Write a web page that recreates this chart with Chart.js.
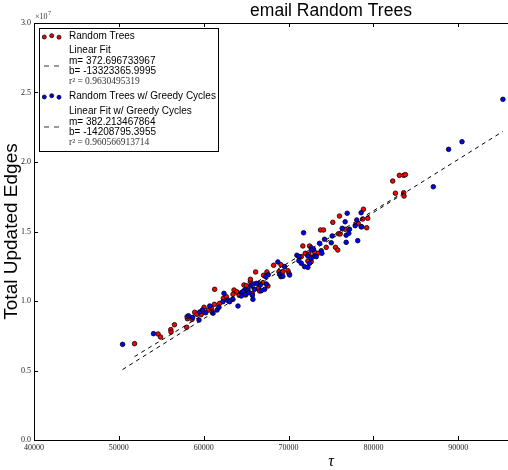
<!DOCTYPE html>
<html>
<head>
<meta charset="utf-8">
<script src="https://cdn.jsdelivr.net/npm/chart.js@4"></script>
<style>
  html, body { margin: 0; padding: 0; background: #fff; overflow: hidden; }
  #wrap { width: 660px; height: 470px; }
</style>
</head>
<body>
<div id="wrap"><canvas id="grafica" width="660" height="470"></canvas></div>
<script>
// tau values and total updated edges, plain random trees
const tauRandom = [
  51850, 54620, 54910, 56120, 56150, 56550, 58080, 58000, 58040, 58620,
  58940, 59210, 60040, 60550, 60980, 61260, 61880, 61290, 62320, 62670,
  63570, 63450, 64150, 64740, 65490, 65730, 65500, 66440, 64940, 65020,
  66120, 66470, 66980, 67570, 66590, 67060, 67450, 68240, 69100, 68860,
  69330, 69920, 70040, 71500, 71680, 71970, 72670, 73450, 72270, 72670,
  72470, 72390, 73060, 73770, 74120, 74440, 75530, 75800, 75210, 75880,
  76080, 76000, 76670, 78200, 78740, 79330, 78550, 78820, 79210, 82270,
  83060, 83570, 83770, 82590, 83570, 83610, 59700, 60900, 62900, 63900
];
const edgesRandom = [
  6.93e6, 7.63e6, 7.41e6, 7.94e6, 7.77e6, 8.29e6, 8.73e6, 8.11e6, 8.87e6, 8.68e6,
  9.19e6, 9.04e6, 9.55e6, 9.35e6, 9.23e6, 9.76e6, 9.83e6, 10.84e6, 10.19e6, 10.31e6,
  10.79e6, 10.48e6, 10.43e6, 11.15e6, 11.39e6, 10.55e6, 11.56e6, 10.91e6, 10.43e6, 11.10e6,
  12.09e6, 11.27e6, 11.32e6, 11.08e6, 10.72e6, 11.85e6, 12.09e6, 12.57e6, 12.61e6, 12.11e6,
  12.11e6, 12.18e6, 11.99e6, 13.19e6, 13.96e6, 13.43e6, 13.14e6, 13.43e6, 12.88e6, 12.83e6,
  13.96e6, 13.38e6, 13.52e6, 15.11e6, 15.11e6, 13.86e6, 13.86e6, 13.67e6, 15.66e6, 14.84e6,
  14.82e6, 16.11e6, 15.16e6, 15.59e6, 15.90e6, 15.95e6, 15.34e6, 16.60e6, 15.27e6, 18.63e6,
  19.04e6, 19.04e6, 19.09e6, 17.75e6, 17.79e6, 17.55e6, 9.02e6, 9.48e6, 10.02e6, 10.66e6
];

// same runs with greedy cycles
const tauGreedy = [
  50440, 54080, 58200, 59450, 59530, 59850, 60240, 60710, 61570, 61800,
  62390, 62270, 62860, 63060, 63450, 64040, 64440, 64820, 64940, 65210,
  65530, 66000, 66200, 64620, 65330, 65730, 65800, 64440, 65800, 66670,
  67380, 67180, 66790, 67610, 67300, 68740, 69530, 68940, 69100, 69330,
  70120, 70980, 71210, 72270, 73060, 71210, 71500, 71880, 72470, 72270,
  71770, 72670, 72940, 72700, 73260, 72670, 73650, 73850, 73920, 74240,
  75030, 75140, 76320, 77180, 76790, 77100, 76790, 78150, 76910, 78550,
  78040, 78630, 76670, 77850, 87060, 88860, 90440, 95260, 58700, 61100
];
const edgesGreedy = [
  6.88e6, 7.65e6, 8.94e6, 8.63e6, 9.21e6, 9.35e6, 9.16e6, 9.64e6, 9.35e6, 9.55e6,
  10.55e6, 9.95e6, 10.07e6, 9.95e6, 10.12e6, 9.64e6, 10.60e6, 10.79e6, 10.50e6, 10.79e6,
  11.08e6, 10.84e6, 11.27e6, 10.67e6, 10.60e6, 10.41e6, 10.12e6, 10.36e6, 11.22e6, 11.15e6,
  11.22e6, 10.84e6, 10.74e6, 11.89e6, 11.75e6, 12.81e6, 12.47e6, 11.92e6, 11.75e6, 11.78e6,
  11.87e6, 13.29e6, 13.19e6, 13.24e6, 13.24e6, 12.90e6, 12.71e6, 12.47e6, 12.71e6, 12.42e6,
  14.91e6, 13.83e6, 13.72e6, 13.67e6, 13.19e6, 13.07e6, 14.15e6, 13.62e6, 13.43e6, 14.44e6,
  14.19e6, 14.68e6, 15.23e6, 15.16e6, 14.73e6, 14.87e6, 14.22e6, 14.34e6, 16.31e6, 16.35e6,
  15.83e6, 15.34e6, 15.70e6, 15.42e6, 18.22e6, 20.91e6, 21.46e6, 24.51e6, 8.82e6, 9.12e6
];

// least squares fits
const fitRandom = { m: 372.696733967, b: -13323365.9995, r2: 0.9630495319 };
const fitGreedy = { m: 382.213467864, b: -14208795.3955, r2: 0.960566913714 };

const SANS = 'Liberation Sans, Arial, sans-serif';
const SERIF = 'Liberation Serif, DejaVu Serif, serif';

function puntos(xs, ys) {
    return xs.map((x, i) => ({ x: x, y: ys[i] }));
}

// fit line across the tau range of its own series
function recta(fit, xs) {
    const x0 = Math.min(...xs);
    const x1 = Math.max(...xs);
    return [{ x: x0, y: fit.m * x0 + fit.b }, { x: x1, y: fit.m * x1 + fit.b }];
}

const estiloPunto = {
    showLine: false,
    pointRadius: 2.3,
    pointBorderWidth: 0.8,
    borderColor: '#000',
    pointHoverRadius: 2.3
};

const estiloRecta = {
    showLine: true,
    pointRadius: 0,
    pointHoverRadius: 0,
    borderColor: '#000',
    borderWidth: 1,
    fill: false
};

function marcador(ctx, x, y, color) {
    ctx.beginPath();
    ctx.arc(x, y, 2, 0, Math.PI * 2);
    ctx.fillStyle = color;
    ctx.fill();
    ctx.lineWidth = 0.8;
    ctx.strokeStyle = '#000';
    ctx.stroke();
}

// box, inward ticks, title, offset label and legend
const marco = {
    id: 'marco',
    afterDraw(chart) {
        const ctx = chart.ctx;
        const a = chart.chartArea;
        const sx = chart.scales.x;
        const sy = chart.scales.y;
        ctx.save();

        ctx.strokeStyle = '#000';
        ctx.lineWidth = 1;
        ctx.strokeRect(a.left + 0.5, a.top + 0.5, a.right - a.left - 1, a.bottom - a.top);

        ctx.beginPath();
        sx.ticks.forEach(t => {
            const px = Math.round(sx.getPixelForValue(t.value)) + 0.5;
            ctx.moveTo(px, a.bottom); ctx.lineTo(px, a.bottom - 4);
            ctx.moveTo(px, a.top); ctx.lineTo(px, a.top + 4);
        });
        sy.ticks.forEach(t => {
            const py = Math.round(sy.getPixelForValue(t.value)) + 0.5;
            ctx.moveTo(a.left, py); ctx.lineTo(a.left + 4, py);
            ctx.moveTo(a.right, py); ctx.lineTo(a.right - 4, py);
        });
        ctx.stroke();

        // title over the axes
        ctx.fillStyle = '#000';
        ctx.font = '17.5px ' + SANS;
        ctx.textAlign = 'center';
        ctx.textBaseline = 'middle';
        ctx.fillText('email Random Trees', (a.left + a.right) / 2, 11);

        // ×10^7 offset
        ctx.fillStyle = '#333';
        ctx.textAlign = 'left';
        ctx.textBaseline = 'alphabetic';
        ctx.font = '8px ' + SERIF;
        ctx.fillText('×10', a.left + 1, a.top - 4);
        ctx.font = '6px ' + SERIF;
        ctx.fillText('7', a.left + 14, a.top - 8);

        // legend
        const lx = 39, ly = 28;
        ctx.fillStyle = '#fff';
        ctx.fillRect(lx, ly, 179, 123);
        ctx.strokeStyle = '#000';
        ctx.lineWidth = 1;
        ctx.strokeRect(lx + 0.5, ly + 0.5, 179, 123);

        [[44.3, 0.5], [51.7, -0.8], [59, 0.7]].forEach(([x, dy]) => {
            marcador(ctx, x, 36.5 + dy, 'red');
            marcador(ctx, x, 96.5 + dy, 'blue');
        });

        ctx.beginPath();
        ctx.setLineDash([5, 5]);
        ctx.moveTo(44, 66); ctx.lineTo(62, 66);
        ctx.moveTo(44, 127); ctx.lineTo(62, 127);
        ctx.stroke();
        ctx.setLineDash([]);

        ctx.textBaseline = 'middle';
        ctx.fillStyle = '#000';
        ctx.font = '10px ' + SANS;
        ctx.fillText('Random Trees', 69, 36.7);
        ctx.fillText('Linear Fit', 69, 50.7);
        ctx.fillText('m= ' + fitRandom.m, 69, 60.9);
        ctx.fillText('b= ' + fitRandom.b, 69, 71);
        ctx.fillText('Random Trees w/ Greedy Cycles', 69, 96.7);
        ctx.fillText('Linear Fit w/ Greedy Cycles', 69, 111);
        ctx.fillText('m= ' + fitGreedy.m, 69, 121.8);
        ctx.fillText('b= ' + fitGreedy.b, 69, 132.2);
        ctx.fillStyle = '#333';
        ctx.font = '9.5px ' + SERIF;
        ctx.fillText('r² = ' + fitRandom.r2, 69, 81.2);
        ctx.fillText('r² = ' + fitGreedy.r2, 69, 142.4);

        ctx.restore();
    }
};

const datosEdges = {
    datasets: [
        Object.assign({}, estiloPunto, {
            label: 'Random Trees',
            data: puntos(tauRandom, edgesRandom),
            backgroundColor: 'red',
            order: 4
        }),
        Object.assign({}, estiloRecta, {
            label: 'Linear Fit',
            data: recta(fitRandom, tauRandom),
            borderDash: [4, 4],
            order: 3
        }),
        Object.assign({}, estiloPunto, {
            label: 'Random Trees w/ Greedy Cycles',
            data: puntos(tauGreedy, edgesGreedy),
            backgroundColor: 'blue',
            order: 2
        }),
        Object.assign({}, estiloRecta, {
            label: 'Linear Fit w/ Greedy Cycles',
            data: recta(fitGreedy, tauGreedy),
            borderDash: [4, 4],
            order: 1
        })
    ]
};

const ejeTicks = {
    padding: 3,
    color: '#222',
    font: { family: SERIF, size: 8 }
};

const configEdges = {
    type: 'scatter',
    data: datosEdges,
    options: {
        responsive: false,
        animation: false,
        layout: { padding: { top: 23, right: 32, left: 0, bottom: 0 } },
        plugins: {
            legend: { display: false },
            tooltip: { enabled: false },
            title: { display: false }
        },
        scales: {
            x: {
                type: 'linear',
                min: 40000,
                max: 110000,
                grid: { display: false, drawTicks: false, tickLength: 0 },
                border: { display: false },
                ticks: Object.assign({}, ejeTicks, {
                    stepSize: 10000,
                    maxRotation: 0,
                    callback: v => String(v)
                }),
                title: {
                    display: true,
                    text: 'τ',
                    color: '#000',
                    padding: { top: 0, bottom: -1 },
                    font: { family: SERIF, size: 16, style: 'italic' }
                },
                afterFit: s => { s.height = 30; }
            },
            y: {
                type: 'linear',
                min: 0,
                max: 3e7,
                grid: { display: false, drawTicks: false, tickLength: 0 },
                border: { display: false },
                ticks: Object.assign({}, ejeTicks, {
                    stepSize: 5e6,
                    callback: v => (v / 1e7).toFixed(1)
                }),
                title: {
                    display: true,
                    text: 'Total Updated Edges',
                    color: '#000',
                    padding: 0,
                    font: { family: SANS, size: 19 }
                },
                afterFit: s => { s.width = 34; }
            }
        }
    },
    plugins: [marco]
};

const graficaEdges = new Chart(
    document.getElementById('grafica'),
    configEdges
);
</script>
</body>
</html>
